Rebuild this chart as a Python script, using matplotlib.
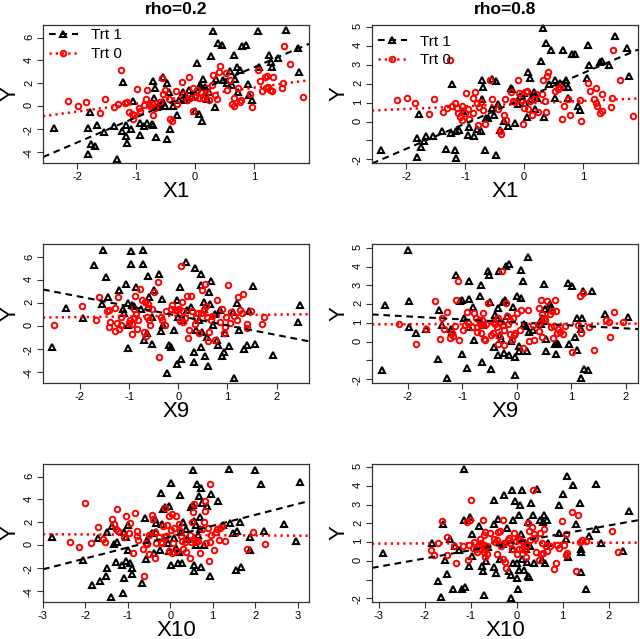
import matplotlib
matplotlib.use("Agg")
import matplotlib.pyplot as plt
from matplotlib.lines import Line2D
import numpy as np

plt.rcParams["font.family"] = ["Liberation Sans", "DejaVu Sans"]
plt.rcParams["axes.unicode_minus"] = False

# ---- data: (x, Y) points per treatment group ----
# top-left: rho=0.2, X1
p1_trt1 = [(-2.40, -1.9), (-1.81, -4.2), (-1.81, -1.9), (-1.78, -0.5), (-1.76, -3.3), (-1.69, -3.5),
           (-1.67, -1.7), (-1.55, -2.3), (-1.38, -1.75), (-1.33, -4.6), (-1.23, 2.1), (-1.24, -2.2),
           (-1.17, -2.6), (-1.16, -3.2), (-1.17, -1.7), (-1.09, -2.0), (-1.05, 0.45), (-0.93, -2.5),
           (-0.94, -1.5), (-0.86, -1.75), (-0.82, -1.5), (-0.73, -1.6), (-0.71, -1.7), (-0.72, 2.2),
           (-0.68, 1.6), (-0.66, -2.7), (-0.69, 0.7), (-0.65, -0.05), (-0.59, 0.1), (-0.55, 2.55),
           (-0.54, 0.4), (-0.51, 0.0), (-0.48, -2.9), (-0.47, 2.0), (-0.45, 1.25), (-0.42, -2.0),
           (-0.37, 0.0), (-0.31, -0.8), (-0.28, 0.55), (-0.20, 1.25), (-0.17, 0.55), (-0.11, 1.4),
           (-0.06, 0.9), (-0.01, -0.4), (0.03, 3.75), (0.07, -0.65), (0.08, 1.85), (0.10, 1.7),
           (0.11, -1.3), (0.14, 2.35), (0.17, 1.65), (0.20, 0.65), (0.23, 1.25), (0.27, 4.4),
           (0.31, 6.6), (0.34, -0.05), (0.36, 2.35), (0.38, 5.55), (0.45, 5.4), (0.48, 2.3),
           (0.54, 2.0), (0.59, 3.1), (0.62, 1.85), (0.65, 4.5), (0.68, 2.4), (0.71, 3.45),
           (0.73, 1.2), (0.76, 3.2), (0.79, 5.3), (0.86, 5.35), (0.90, 1.95), (0.92, 1.0),
           (0.96, 0.55), (1.07, 6.6), (1.09, 3.45), (1.26, 4.5), (1.29, 3.85), (1.30, 3.45),
           (1.41, 4.2), (1.54, 6.7), (1.75, 5.05), (1.76, 3.0)]
p1_trt0 = [(-2.15, 0.45), (-1.98, 0.05), (-1.85, 0.4), (-1.61, -0.6), (-1.53, 0.6), (-1.37, -0.05),
           (-1.30, 0.15), (-1.25, 3.2), (-1.19, 0.25), (-1.15, 0.4), (-1.13, -0.5), (-1.07, -0.65),
           (-1.05, -1.15), (-1.03, -0.8), (-0.99, 1.5), (-0.96, -0.2), (-0.93, -0.4), (-0.86, 0.1),
           (-0.84, 0.6), (-0.82, 1.4), (-0.79, 0.2), (-0.76, 0.0), (-0.73, 0.15), (-0.71, -0.8),
           (-0.68, -0.15), (-0.60, 0.35), (-0.56, 2.5), (-0.54, 1.1), (-0.51, 1.45), (-0.45, 0.65),
           (-0.42, -1.15), (-0.40, -1.3), (-0.33, 1.3), (-0.30, 0.15), (-0.23, 2.15), (-0.19, 1.05),
           (-0.14, 0.5), (-0.11, 2.55), (-0.08, 0.75), (-0.04, 1.55), (-0.03, -0.4), (0.00, 0.8),
           (0.03, 1.4), (0.06, 0.75), (0.10, 1.25), (0.14, 0.75), (0.17, 0.95), (0.20, 1.55),
           (0.24, 0.5), (0.28, 1.85), (0.31, 2.7), (0.34, 0.95), (0.37, 0.6), (0.40, 3.0),
           (0.42, 3.5), (0.53, 2.9), (0.54, 1.4), (0.59, 2.3), (0.62, 0.15), (0.65, 0.05),
           (0.65, 0.75), (0.73, 1.55), (0.76, 0.35), (0.77, 0.5), (0.93, 1.1), (0.96, -0.1),
           (1.07, 3.2), (1.10, 2.2), (1.13, 1.35), (1.19, 2.55), (1.20, 1.55), (1.21, 2.6),
           (1.24, 1.7), (1.27, 1.45), (1.30, 1.3), (1.32, 2.55), (1.47, 1.6), (1.49, 2.0),
           (1.50, 5.25), (1.61, 3.7), (1.82, 0.8)]

# top-right: rho=0.8, X1
p2_trt1 = [(-2.42, -1.53), (-1.81, -1.89), (-1.81, -0.87), (-1.78, 0.41), (-1.75, -1.37), (-1.69, -1.05),
           (-1.66, -0.75), (-1.55, -0.78), (-1.39, -0.48), (-1.33, -1.44), (-1.22, 2.01), (-1.24, -0.6),
           (-1.17, -1.53), (-1.16, -1.92), (-1.15, -0.48), (-1.10, -0.43), (-1.04, 0.55), (-0.95, -0.69),
           (-0.93, -0.3), (-0.85, -0.78), (-0.80, -0.37), (-0.74, -0.48), (-0.72, 2.19), (-0.69, 1.83),
           (-0.66, -1.49), (-0.72, 1.17), (-0.65, 0.2), (-0.61, 0.2), (-0.55, 2.24), (-0.55, 0.73),
           (-0.51, 0.37), (-0.48, -1.78), (-0.48, 2.15), (-0.44, 0.93), (-0.41, -0.43), (-0.35, 0.02),
           (-0.28, -0.25), (-0.23, 1.8), (-0.20, 1.71), (-0.15, -0.07), (-0.11, 0.91), (-0.07, 1.35),
           (-0.01, 1.49), (0.02, 1.0), (0.05, 0.25), (0.06, 2.63), (0.10, 2.3), (0.12, 1.17),
           (0.16, 1.57), (0.19, 0.64), (0.22, 1.26), (0.28, 3.22), (0.32, 4.95), (0.34, 0.25),
           (0.37, 4.15), (0.42, 1.98), (0.45, 3.81), (0.53, 2.21), (0.52, 1.23), (0.61, 2.06),
           (0.65, 3.81), (0.67, 1.85), (0.71, 2.19), (0.74, 1.23), (0.75, 1.85), (0.81, 3.58),
           (0.87, 3.58), (0.92, 0.85), (0.95, 0.59), (1.08, 4.06), (1.10, 3.01), (1.06, 2.33),
           (1.29, 3.17), (1.32, 3.22), (1.43, 3.01), (1.54, 4.52), (1.75, 3.88), (1.78, 2.42)]
p2_trt0 = [(-2.15, 1.14), (-1.98, 1.26), (-1.85, 1.0), (-1.61, 0.39), (-1.53, 1.21), (-1.37, 0.5),
           (-1.31, 0.71), (-1.25, 3.26), (-1.22, 0.85), (-1.17, 0.96), (-1.14, 0.73), (-1.13, 0.43),
           (-1.09, 0.25), (-1.06, 0.07), (-1.05, 0.82), (-1.01, 0.46), (-0.98, 1.53), (-0.96, 0.64),
           (-0.93, 0.14), (-0.87, 0.46), (-0.86, 1.23), (-0.83, 1.57), (-0.80, 1.0), (-0.79, -0.16),
           (-0.76, 0.78), (-0.73, 1.03), (-0.70, 0.59), (-0.67, -0.11), (-0.58, 2.19), (-0.54, 1.21),
           (-0.45, 0.64), (-0.41, -0.52), (-0.39, -0.64), (-0.34, 0.37), (-0.33, 1.21), (-0.31, 0.07),
           (-0.23, 1.57), (-0.19, 1.07), (-0.15, 1.03), (-0.11, 2.19), (-0.09, 1.49), (-0.04, 1.12),
           (-0.02, -0.11), (0.00, 0.73), (0.03, 1.57), (0.05, 1.62), (0.06, 0.64), (0.10, 1.07),
           (0.13, 0.37), (0.16, 1.17), (0.20, 1.48), (0.24, 0.53), (0.30, 1.44), (0.32, 2.21),
           (0.35, 1.09), (0.37, 0.5), (0.38, 2.42), (0.41, 2.63), (0.53, 1.62), (0.57, 1.74),
           (0.61, 1.85), (0.64, 0.11), (0.67, 0.82), (0.75, 1.17), (0.78, 0.37), (0.95, 1.12),
           (0.96, 0.02), (1.08, 2.06), (1.11, 1.62), (1.19, 1.17), (1.22, 1.8), (1.21, 1.0),
           (1.24, 0.82), (1.28, 0.46), (1.32, 1.48), (1.32, 0.55), (1.47, 0.78), (1.50, 3.79),
           (1.49, 1.26), (1.62, 2.21), (1.84, 0.28)]

# middle-left: rho=0.2, X9
p3_trt1 = [(-2.56, -1.84), (-2.29, 1.6), (-1.93, 0.7), (-1.72, 5.3), (-1.54, 1.95), (-1.53, 6.6),
           (-1.47, 4.3), (-1.43, 2.5), (-1.20, 3.1), (-1.13, 1.45), (-1.11, 1.15), (-1.06, 3.7),
           (-1.03, -1.9), (-1.02, 2.0), (-1.03, 0.05), (-0.97, 6.55), (-0.96, 5.45), (-0.93, 1.8),
           (-0.90, 1.7), (-0.86, 3.4), (-0.76, 1.5), (-0.71, 6.65), (-0.71, 5.4), (-0.69, -1.2),
           (-0.64, -0.65), (-0.62, 4.35), (-0.59, 2.5), (-0.54, -1.55), (-0.54, 0.75), (-0.49, 3.1),
           (-0.39, 4.55), (-0.36, -0.45), (-0.32, 2.35), (-0.31, 0.05), (-0.22, -4.15), (-0.19, -1.65),
           (-0.15, -1.8), (-0.09, -0.4), (-0.03, -3.3), (-0.02, 2.3), (0.00, 0.8), (0.03, 3.4),
           (0.05, -2.9), (0.09, 0.5), (0.15, 5.6), (0.17, 1.35), (0.25, 1.65), (0.34, 5.05),
           (0.33, -2.25), (0.33, -3.15), (0.37, -0.4), (0.42, 0.5), (0.46, -1.85), (0.47, 4.5),
           (0.47, 3.55), (0.52, 2.1), (0.53, 1.5), (0.54, -2.65), (0.49, -0.5), (0.58, -0.95),
           (0.61, -3.5), (0.62, 3.0), (0.64, 1.95), (0.66, 3.9), (0.71, 0.05), (0.75, 1.0),
           (0.78, -1.2), (0.81, -1.7), (0.86, 1.35), (0.90, -2.65), (0.93, -2.25), (0.95, -0.65),
           (1.04, -1.75), (1.12, 1.2), (1.14, -4.55), (1.20, 2.0), (1.23, -0.4), (1.34, -2.0),
           (1.39, -1.7), (1.44, 1.3), (1.53, 3.45), (1.56, -1.55), (1.93, -2.55), (2.44, 0.35),
           (2.47, 1.85)]
p3_trt0 = [(-2.53, 0.05), (-1.95, 1.7), (-1.68, 0.55), (-1.62, 2.55), (-1.44, 1.3), (-1.40, 1.35),
           (-1.39, 0.35), (-1.40, -0.1), (-1.29, 1.55), (-1.25, 0.25), (-1.29, -0.45), (-1.22, 2.5),
           (-1.20, -0.3), (-1.17, 0.75), (-1.16, 0.1), (-1.00, 0.25), (-0.98, 0.5), (-0.95, -0.75),
           (-0.94, 0.2), (-0.90, 1.45), (-0.89, 0.65), (-0.88, 2.6), (-0.86, 1.0), (-0.83, -0.25),
           (-0.81, 0.5), (-0.77, 3.2), (-0.73, 2.25), (-0.69, -0.5), (-0.68, 2.1), (-0.66, -0.9),
           (-0.63, 0.75), (-0.62, 1.55), (-0.61, 1.95), (-0.60, 0.5), (-0.58, 0.05), (-0.54, 1.5),
           (-0.49, 2.95), (-0.42, 3.85), (-0.39, -2.7), (-0.35, 0.8), (-0.32, 0.5), (-0.27, 0.05),
           (-0.24, 1.3), (-0.15, 1.5), (-0.12, 1.85), (-0.07, 1.35), (-0.03, 1.35), (0.02, 1.45),
           (0.03, 0.45), (0.05, 5.2), (0.07, 2.1), (0.09, 1.3), (0.10, 0.35), (0.14, 0.65),
           (0.17, 2.6), (0.20, -1.1), (0.22, -0.4), (0.26, 2.6), (0.29, 1.3), (0.34, 0.2),
           (0.36, 0.65), (0.41, 1.1), (0.42, -0.65), (0.46, 1.15), (0.49, 3.1), (0.52, 1.35),
           (0.54, 3.65), (0.56, 1.7), (0.58, 0.75), (0.60, -1.35), (0.63, -0.5), (0.66, 0.5),
           (0.69, 0.85), (0.75, -1.2), (0.79, 2.25), (0.85, 0.35), (0.90, 1.45), (0.94, -0.65),
           (0.96, -0.1), (0.98, 0.8), (1.02, 3.55), (1.05, 0.25), (1.08, 1.2), (1.13, 0.85),
           (1.19, 0.55), (1.22, 2.55), (1.25, 1.35), (1.29, 1.1), (1.31, 2.75), (1.39, 0.2),
           (1.40, -0.15), (1.49, 1.3), (1.71, 0.15), (1.75, 0.75)]

# middle-right: rho=0.8, X9
p4_trt1 = [(-2.47, -1.53), (-2.41, 1.97), (-2.00, 4.9), (-1.98, 2.17), (-1.97, 0.75), (-1.84, 0.43),
           (-1.66, 0.69), (-1.45, -0.91), (-1.42, 1.67), (-1.37, 0.87), (-1.28, -1.92), (-1.21, 0.69),
           (-1.18, 0.52), (-1.11, 3.54), (-1.04, 2.17), (-1.01, 2.24), (-1.01, -0.69), (-0.96, 1.23),
           (-0.91, -1.39), (-0.88, 3.23), (-0.88, 2.29), (-0.87, 0.78), (-0.80, 1.85), (-0.79, 0.07),
           (-0.68, 2.42), (-0.66, 3.0), (-0.64, -1.08), (-0.62, 0.87), (-0.52, 3.77), (-0.50, 3.57),
           (-0.49, 2.11), (-0.48, -1.44), (-0.41, -0.28), (-0.40, 1.4), (-0.37, 1.23), (-0.35, -0.73),
           (-0.34, 1.81), (-0.32, 3.77), (-0.30, 0.34), (-0.29, 0.12), (-0.26, 2.11), (-0.24, -0.6),
           (-0.21, 2.24), (-0.20, 4.01), (-0.17, 1.35), (-0.14, 4.12), (-0.14, -0.73), (-0.11, 0.04),
           (-0.06, 1.85), (-0.04, -0.82), (-0.03, -1.76), (0.00, 2.42), (0.04, -0.25), (0.05, -0.5),
           (0.07, 2.34), (0.08, 3.84), (0.11, 3.23), (0.13, 0.96), (0.17, 0.82), (0.18, -0.5),
           (0.20, 4.51), (0.23, 0.52), (0.30, 0.6), (0.45, 0.96), (0.47, 1.28), (0.50, 3.09),
           (0.52, 1.72), (0.53, -0.52), (0.54, 0.11), (0.60, 1.99), (0.63, 1.85), (0.70, -0.11),
           (0.72, -0.64), (0.74, -0.07), (0.76, -0.14), (0.93, 3.13), (0.95, -0.11), (1.01, 2.95),
           (1.07, 0.25), (1.10, -0.46), (1.11, 1.23), (1.19, 1.23), (1.17, -1.92), (1.18, 0.69),
           (1.24, -1.49), (1.31, -1.53), (1.21, 2.7), (1.37, 2.68), (1.62, 1.49), (2.04, 1.31)]
p4_trt0 = [(-2.15, 0.92), (-1.84, -0.11), (-1.66, 0.69), (-1.49, 2.17), (-1.41, 0.11), (-1.37, 1.26),
           (-1.34, 0.69), (-1.28, 1.55), (-1.22, 0.2), (-1.19, 0.43), (-1.16, 0.28), (-1.13, 0.82),
           (-1.11, 2.2), (-1.08, 3.23), (-1.05, 0.07), (-0.98, 0.64), (-0.95, 0.87), (-0.91, 1.58),
           (-0.90, 0.99), (-0.82, 0.75), (-0.79, 1.53), (-0.74, 1.23), (-0.73, 0.52), (-0.72, 0.78),
           (-0.70, 1.14), (-0.68, 0.96), (-0.66, 0.46), (-0.64, 1.14), (-0.61, 0.87), (-0.62, 1.53),
           (-0.60, 0.11), (-0.58, 0.07), (-0.56, 0.96), (-0.53, 2.06), (-0.48, 0.34), (-0.44, 0.46),
           (-0.43, 1.05), (-0.40, 0.91), (-0.37, 0.78), (-0.35, 1.23), (-0.34, -0.11), (-0.32, 0.28),
           (-0.30, 1.05), (-0.27, 3.77), (-0.26, 0.87), (-0.24, 0.6), (-0.23, -0.16), (-0.20, 2.06),
           (-0.18, 1.35), (-0.16, 0.96), (-0.13, 0.39), (-0.12, 1.14), (-0.09, 0.07), (-0.07, 1.23),
           (-0.05, 0.34), (-0.03, 0.43), (0.01, 1.53), (0.06, 0.6), (0.08, 1.7), (0.12, -0.32),
           (0.21, 1.7), (0.23, 0.04), (0.29, 0.87), (0.32, 0.07), (0.40, 0.55), (0.41, 1.79),
           (0.43, 0.99), (0.45, 2.24), (0.46, 0.25), (0.47, 1.46), (0.49, 1.23), (0.52, 1.14),
           (0.56, 2.17), (0.60, 1.49), (0.63, 0.78), (0.65, 1.63), (0.66, 0.2), (0.68, 0.82),
           (0.70, 2.2), (0.71, 1.63), (0.73, 0.46), (0.76, 0.69), (0.80, 0.52), (0.85, 0.39),
           (0.88, 0.82), (1.01, -0.55), (1.13, 0.87), (1.16, 2.42), (1.21, 2.6), (1.18, 0.46),
           (1.33, 0.78), (1.41, -0.46), (1.63, 1.14), (1.68, 1.05), (1.70, 0.25), (1.78, 1.58),
           (1.94, 1.05)]

# bottom-left: rho=0.2, X10
p5_trt1 = [(-2.78, 0.67), (-2.06, -1.32), (-1.84, -3.54), (-1.71, 0.58), (-1.65, -3.13), (-1.51, -2.69),
           (-1.49, -1.99), (-1.49, 1.11), (-1.39, -4.59), (-1.37, 1.67), (-1.33, 0.06), (-1.29, -1.52),
           (-1.26, 0.23), (-1.13, -1.75), (-1.12, -4.24), (-1.10, -2.92), (-1.10, 1.17), (-1.05, -1.37),
           (-1.04, 0.73), (-1.00, 1.75), (-1.00, -0.44), (-0.94, -1.55), (-0.90, -2.57), (-0.90, -1.99),
           (-0.66, -3.3), (-0.59, 2.4), (-0.57, -1.26), (-0.54, 0.44), (-0.42, 1.08), (-0.39, -0.67),
           (-0.37, 2.28), (-0.33, 1.17), (-0.33, 1.96), (-0.25, -0.44), (-0.21, 4.59), (-0.19, 1.81),
           (-0.17, 3.16), (-0.13, 3.36), (-0.06, 0.15), (-0.04, 3.42), (-0.03, -0.53), (0.02, 5.47),
           (0.02, -1.75), (0.09, 0.58), (0.13, -0.23), (0.18, -1.61), (0.20, -0.58), (0.22, 4.39),
           (0.26, 1.11), (0.28, -1.61), (0.30, 2.05), (0.38, 1.37), (0.39, 0.5), (0.50, 3.36),
           (0.53, 6.58), (0.53, 3.51), (0.56, -1.75), (0.56, -2.28), (0.57, 2.11), (0.61, 1.75),
           (0.61, 0.0), (0.65, 0.88), (0.64, 5.32), (0.68, 4.33), (0.69, 2.49), (0.71, 1.4),
           (0.72, 5.03), (0.73, -1.9), (0.75, 3.65), (0.79, 0.0), (0.86, 3.42), (0.93, -2.69),
           (0.97, 4.45), (1.12, 3.86), (1.24, 1.75), (1.38, 6.64), (1.40, 1.9), (1.48, 1.08),
           (1.57, 1.23), (1.56, -2.19), (1.64, 2.05), (1.66, -1.96), (1.89, 0.73), (1.89, -0.44),
           (1.99, 6.58), (2.15, 5.35), (2.22, 1.23), (2.67, 1.84), (2.96, 0.35), (3.05, 5.56)]
p5_trt0 = [(-2.37, 0.29), (-2.16, -0.15), (-2.02, 3.65), (-1.88, 0.2), (-1.71, 1.55), (-1.59, 0.5),
           (-1.55, 0.29), (-1.38, 2.25), (-1.33, 1.81), (-1.27, 1.37), (-1.25, 3.16), (-1.23, 1.26),
           (-1.08, 0.73), (-1.05, 2.54), (-0.97, 1.08), (-0.94, 1.9), (-0.88, -0.73), (-0.84, 2.78),
           (-0.79, 1.23), (-0.78, 0.79), (-0.76, 0.44), (-0.64, -0.35), (-0.62, -2.72), (-0.58, 0.15),
           (-0.54, 0.06), (-0.50, -0.79), (-0.49, 0.88), (-0.42, 2.63), (-0.41, 2.25), (-0.37, -1.17),
           (-0.35, 1.17), (-0.33, 0.15), (-0.27, 0.73), (-0.23, 0.29), (-0.20, 0.2), (-0.17, 1.67),
           (-0.13, 3.22), (-0.12, 0.67), (-0.09, 0.79), (-0.08, 1.75), (-0.03, 2.54), (-0.02, -0.53),
           (0.01, 1.32), (0.04, 2.69), (0.05, -0.73), (0.06, 0.15), (0.08, 1.46), (0.13, 2.57),
           (0.17, -0.53), (0.20, 1.84), (0.22, 1.23), (0.26, 0.82), (0.28, 0.35), (0.30, -0.35),
           (0.34, 0.23), (0.36, -0.58), (0.46, -1.11), (0.47, 0.88), (0.50, 0.23), (0.52, 2.05),
           (0.53, 2.87), (0.56, 3.57), (0.57, 0.44), (0.61, 0.29), (0.65, 0.35), (0.69, -0.67),
           (0.75, 1.4), (0.79, 2.05), (0.81, 2.98), (0.83, 3.86), (0.85, 0.15), (0.89, 1.52),
           (0.91, -1.37), (0.93, 5.32), (0.94, 0.23), (0.97, 0.88), (1.02, -0.44), (1.07, 1.17),
           (1.10, 1.37), (1.14, 0.44), (1.18, 1.52), (1.23, 1.7), (1.30, 0.38), (1.81, -0.38),
           (1.95, 1.17), (2.24, 0.09)]

# bottom-right: rho=0.8, X10
p6_trt1 = [(-2.92, 0.44), (-1.85, 0.93), (-1.72, -1.07), (-1.65, -1.92), (-1.61, 1.99), (-1.57, 0.07),
           (-1.52, -0.71), (-1.45, 1.19), (-1.38, -1.48), (-1.34, 0.78), (-1.25, 0.6), (-1.20, -1.53),
           (-1.14, 2.17), (-1.14, 4.93), (-1.12, -1.42), (-1.03, -0.27), (-1.01, 2.35), (-0.98, 1.42),
           (-0.98, 0.27), (-0.83, 1.87), (-0.75, -0.28), (-0.74, -0.53), (-0.71, -1.8), (-0.67, -0.02),
           (-0.62, 0.75), (-0.49, 3.24), (-0.49, 1.99), (-0.49, -0.32), (-0.45, -0.64), (-0.40, 2.26),
           (-0.36, 0.12), (-0.30, 0.89), (-0.28, 3.54), (-0.22, 1.76), (-0.17, -0.53), (-0.12, -0.77),
           (-0.12, -1.96), (-0.11, 3.81), (-0.09, 2.17), (-0.09, -0.11), (-0.07, 0.66), (-0.04, 3.19),
           (0.00, -0.94), (0.01, -0.09), (0.02, -1.48), (0.04, 2.44), (0.05, -0.5), (0.07, 2.97),
           (0.09, 1.41), (0.11, 3.81), (0.12, 0.12), (0.16, -0.5), (0.18, 0.93), (0.20, 0.62),
           (0.22, -0.05), (0.24, 2.08), (0.25, -0.82), (0.27, -0.85), (0.29, 0.8), (0.31, 3.1),
           (0.36, 2.47), (0.38, -0.09), (0.45, 3.86), (0.51, 2.21), (0.54, 0.04), (0.57, 2.08),
           (0.60, 2.44), (0.62, -0.09), (0.65, 2.17), (0.69, 0.93), (0.93, 2.97), (0.91, 1.51),
           (1.01, 3.6), (1.07, 1.19), (1.10, 4.55), (1.12, 0.21), (1.23, 4.04), (1.29, 1.99),
           (1.38, 3.11), (1.39, 0.66), (1.41, 0.48), (1.41, -0.59), (1.51, -1.53), (1.58, 1.32),
           (1.72, 4.13), (1.72, 1.69), (1.83, 0.93), (2.32, 0.53), (2.44, 2.67)]
p6_trt0 = [(-1.87, 0.6), (-1.81, 0.34), (-1.72, 0.93), (-1.62, 2.13), (-1.52, 1.25), (-1.51, 0.34),
           (-1.36, 0.8), (-1.33, -0.11), (-1.17, 0.8), (-1.09, 2.08), (-1.07, 0.04), (-1.03, 0.84),
           (-1.01, 2.17), (-0.99, 3.24), (-0.96, 0.69), (-0.93, 1.01), (-0.88, 0.62), (-0.86, 0.48),
           (-0.83, 0.84), (-0.81, 1.19), (-0.78, 0.98), (-0.76, 0.84), (-0.74, 2.17), (-0.72, 1.37),
           (-0.72, 0.62), (-0.71, 0.48), (-0.69, 0.21), (-0.69, 1.55), (-0.65, 0.8), (-0.64, 0.39),
           (-0.58, 1.51), (-0.49, 1.16), (-0.47, 1.01), (-0.43, 0.39), (-0.42, 1.1), (-0.40, 1.55),
           (-0.36, 1.58), (-0.34, 0.8), (-0.30, 2.21), (-0.29, 0.09), (-0.28, 0.93), (-0.25, -0.05),
           (-0.23, -0.36), (-0.20, 1.1), (-0.17, 1.23), (-0.14, 0.93), (-0.11, 0.62), (-0.06, 1.51),
           (-0.01, 1.05), (0.00, 0.39), (0.02, 1.23), (0.06, 0.66), (0.07, 1.1), (0.11, 0.66),
           (0.14, 1.01), (0.18, 0.57), (0.20, 0.18), (0.22, 0.84), (0.24, 2.03), (0.27, 1.58),
           (0.29, 1.14), (0.33, 1.82), (0.36, 3.77), (0.38, 1.46), (0.40, 1.23), (0.42, 0.48),
           (0.49, 0.04), (0.51, 1.51), (0.53, 0.36), (0.56, 0.98), (0.58, 0.43), (0.60, 1.69),
           (0.63, 0.8), (0.67, 0.52), (0.72, 0.78), (0.81, -0.46), (0.85, -0.11), (0.88, 0.84),
           (0.93, 0.69), (0.99, 2.13), (1.03, 0.87), (1.07, 1.46), (1.07, 0.3), (1.10, 0.44),
           (1.20, 2.62), (1.28, -0.55), (1.34, 2.44), (1.38, 1.01), (1.43, 1.1), (1.50, 1.05),
           (2.08, 1.58), (2.21, 0.48)]

# fitted lines (intercept, slope) for Trt 1 and Trt 0, per panel
fit_trt1 = [(1.21, 2.20), (1.23, 1.34), (0.88, -0.837), (1.02, -0.16), (0.74, 0.955), (1.01, 0.44)]
fit_trt0 = [(0.92, 0.70), (0.95, 0.142), (0.88, 0.054), (0.94, 0.008), (0.89, -0.022), (0.95, 0.009)]

column_titles = ["rho=0.2", "rho=0.8"]
row_xlabels = ["X1", "X9", "X10"]
legend_labels = ["Trt 1", "Trt 0"]

x_limits = [(-2.58, 1.93), (-2.58, 1.93), (-2.75, 2.66), (-2.65, 2.22), (-3.0, 3.27), (-3.15, 2.64)]
y_limits = [(-4.99, 7.11), (-2.2, 5.12), (-4.99, 7.16), (-2.21, 5.2), (-4.99, 7.11), (-2.2, 5.18)]
x_ticks = [[-2, -1, 0, 1], [-2, -1, 0, 1], [-2, -1, 0, 1, 2], [-2, -1, 0, 1, 2],
           [-3, -2, -1, 0, 1, 2, 3], [-3, -2, -1, 0, 1, 2]]
y_ticks_wide = [-4, -2, 0, 2, 4, 6]
y_ticks_narrow = [-2, -1, 0, 1, 2, 3, 4, 5]
y_labels_narrow = ["-2", "", "0", "1", "2", "3", "4", "5"]

panels = [(p1_trt1, p1_trt0), (p2_trt1, p2_trt0), (p3_trt1, p3_trt0),
          (p4_trt1, p4_trt0), (p5_trt1, p5_trt0), (p6_trt1, p6_trt0)]

# pixel boxes (left, top, right, bottom) of each plot region in a 640x639 image
W, H = 640, 639
boxes = [(43, 25, 309, 163), (372, 25, 638, 163),
         (43, 244, 309, 383), (372, 244, 638, 383),
         (43, 464, 309, 602), (372, 464, 638, 602)]

TRI = dict(marker="^", ms=4.4, mew=1.5, mfc="none", mec="black", ls="none")
CIRC = dict(marker="o", ms=4.0, mew=1.4, mfc="none", mec="red", ls="none")
DASH = dict(color="black", lw=1.5, dashes=(3.2, 2.3))
DOT = dict(color="red", lw=1.8, dashes=(0.9, 1.6))


def draw_panel(ax, idx):
    trt1, trt0 = panels[idx]
    x1, y1 = zip(*trt1)
    x0, y0 = zip(*trt0)
    ax.plot(x1, y1, **TRI, clip_on=False)
    ax.plot(x0, y0, **CIRC, clip_on=False)

    xs = np.array(x_limits[idx])
    a1, b1 = fit_trt1[idx]
    a0, b0 = fit_trt0[idx]
    ax.plot(xs, a1 + b1 * xs, **DASH)
    ax.plot(xs, a0 + b0 * xs, **DOT)

    ax.set_xlim(*x_limits[idx])
    ax.set_ylim(*y_limits[idx])
    ax.set_xticks(x_ticks[idx])
    if idx % 2 == 0:
        ax.set_yticks(y_ticks_wide)
    else:
        ax.set_yticks(y_ticks_narrow)
        ax.set_yticklabels(y_labels_narrow)

    ax.tick_params(direction="out", length=4, width=0.8, labelsize=8, pad=2.5, color="#333333")
    ax.tick_params(axis="y", labelrotation=90)
    for sp in ax.spines.values():
        sp.set_linewidth(0.9)
        sp.set_color("#333333")

    ax.set_xlabel(row_xlabels[idx // 2], fontsize=16, va="center")
    ax.xaxis.set_label_coords(0.5, -0.205)
    ax.set_ylabel("Y", fontsize=16, va="center")
    ax.yaxis.set_label_coords(-0.125, 0.5)

    if idx < 2:
        ax.set_title(column_titles[idx], fontsize=12.5, fontweight="bold", pad=8)
        handles = [Line2D([], [], marker="^", ms=4.4, mew=1.5, mfc="none", mec="black", **DASH),
                   Line2D([], [], marker="o", ms=4.0, mew=1.4, mfc="none", mec="red", **DOT)]
        top = 0.975 if idx == 0 else 0.93
        ax.legend(handles, legend_labels, loc="upper left", bbox_to_anchor=(0.022, top),
                  frameon=False, fontsize=11, handlelength=1.9, handletextpad=0.85,
                  labelspacing=0.3, borderpad=0, borderaxespad=0, numpoints=1)


def main():
    fig = plt.figure(figsize=(W / 100, H / 100), dpi=100)
    for idx, (l, t, r, b) in enumerate(boxes):
        ax = fig.add_axes([l / W, 1 - b / H, (r - l) / W, (b - t) / H])
        draw_panel(ax, idx)
    fig.savefig("out.png", dpi=100)
    plt.close(fig)


if __name__ == "__main__":
    main()
